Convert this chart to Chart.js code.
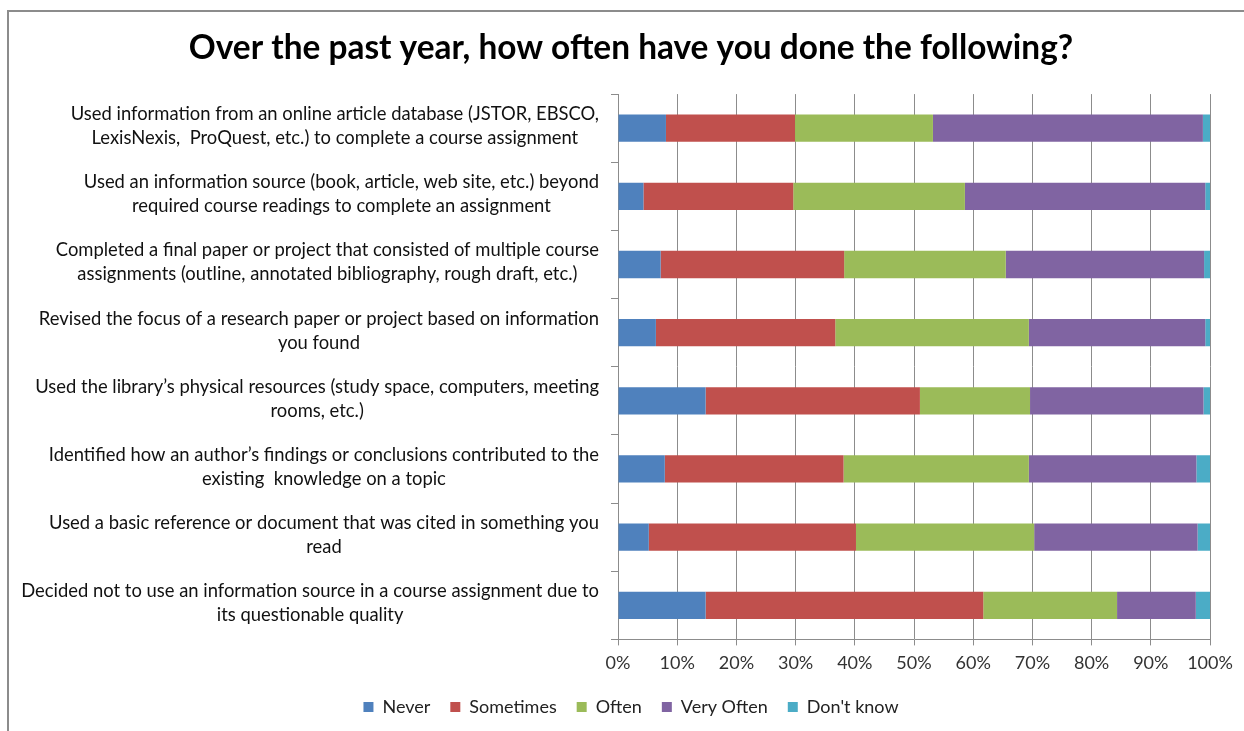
<!DOCTYPE html>
<html>
<head>
<meta charset="utf-8">
<script src="https://cdn.jsdelivr.net/npm/chart.js@4/dist/chart.umd.min.js"></script>
<style>
    html, body { margin: 0; padding: 0; background: #fff; }
    #wrap { position: relative; width: 1244px; height: 731px; }
    #frame { position: absolute; left: 7px; top: 10px; width: 1250px; height: 740px;
             border-top: 2px solid #8c8c8c; border-left: 2px solid #8c8c8c; pointer-events: none; }
</style>
</head>
<body>
<div id="wrap">
    <canvas id="surveyChart" width="1244" height="731"></canvas>
    <div id="frame"></div>
</div>
<script>
// Вопросы (каждая строка подписи отдельно)
const questions = [
    ['Used information from an online article database (JSTOR, EBSCO,', 'LexisNexis,  ProQuest, etc.) to complete a course assignment'],
    ['Used an information source (book, article, web site, etc.) beyond', 'required course readings to complete an assignment'],
    ['Completed a final paper or project that consisted of multiple course', 'assignments (outline, annotated bibliography, rough draft, etc.)'],
    ['Revised the focus of a research paper or project based on information', 'you found'],
    ['Used the library\u2019s physical resources (study space, computers, meeting', 'rooms, etc.)'],
    ['Identified how an author\u2019s findings or conclusions contributed to the', 'existing  knowledge on a topic'],
    ['Used a basic reference or document that was cited in something you', 'read'],
    ['Decided not to use an information source in a course assignment due to', 'its questionable quality']
];

// Доли ответов, %
const never      = [8.1, 4.3, 7.2, 6.4, 14.8, 7.9, 5.2, 14.8];
const sometimes  = [21.8, 25.3, 31.0, 30.3, 36.2, 30.2, 35.0, 46.9];
const often      = [23.3, 29.0, 27.3, 32.7, 18.6, 31.3, 30.1, 22.6];
const veryOften  = [45.6, 40.6, 33.5, 29.8, 29.3, 28.3, 27.6, 13.3];
const dontKnow   = [1.2, 0.8, 1.0, 0.8, 1.1, 2.3, 2.1, 2.4];

const seriesNames = ['Never', 'Sometimes', 'Often', 'Very Often', "Don't know"];
const xTicks = [0, 10, 20, 30, 40, 50, 60, 70, 80, 90, 100];

const colors = {
    never: '#4F81BD',
    sometimes: '#C0504D',
    often: '#9BBB59',
    veryOften: '#8064A2',
    dontKnow: '#4BACC6'
};

const FONT = 'Lato, "Open Sans", sans-serif';
const LABEL_SIZE = 18.4;
const LABEL_LINE = 24;
const PAD_LEFT = 52;

// Подписи категорий: каждая подпись центрирована, блок прижат вправо
const centeredLabels = {
    id: 'centeredLabels',
    afterDraw(chart) {
        const yScale = chart.scales.y;
        const ctx = chart.ctx;
        const right = yScale.right - 19;
        ctx.save();
        ctx.font = `${LABEL_SIZE}px ${FONT}`;
        ctx.fillStyle = '#111';
        ctx.textAlign = 'center';
        ctx.textBaseline = 'middle';
        questions.forEach((lines, i) => {
            const cy = yScale.getPixelForTick(i);
            const maxW = Math.max(...lines.map(l => ctx.measureText(l).width));
            const cx = right - maxW / 2;
            const top = cy - (lines.length - 1) * LABEL_LINE / 2 - 2;
            lines.forEach((l, j) => ctx.fillText(l, cx, top + j * LABEL_LINE));
        });
        ctx.restore();
    }
};

const makeSet = (label, data, color) => ({
    label, data,
    backgroundColor: color,
    borderWidth: 0,
    barPercentage: 0.4,
    categoryPercentage: 1.0
});

new Chart(document.getElementById('surveyChart').getContext('2d'), {
    type: 'bar',
    data: {
        labels: questions,
        datasets: [
            makeSet(seriesNames[0], never, colors.never),
            makeSet(seriesNames[1], sometimes, colors.sometimes),
            makeSet(seriesNames[2], often, colors.often),
            makeSet(seriesNames[3], veryOften, colors.veryOften),
            makeSet(seriesNames[4], dontKnow, colors.dontKnow)
        ]
    },
    options: {
        indexAxis: 'y',
        responsive: false,
        animation: false,
        layout: { padding: { left: PAD_LEFT, right: 34, top: 10, bottom: 5 } },
        plugins: {
            title: {
                display: true,
                text: 'Over the past year, how often have you done the following?',
                color: '#000',
                font: { family: FONT, size: 33.4, weight: 'bold' },
                padding: { top: 18, bottom: 26 }
            },
            legend: {
                position: 'bottom',
                labels: {
                    color: '#222',
                    font: { family: FONT, size: 18 },
                    boxWidth: 10,
                    boxHeight: 10,
                    padding: 20
                }
            },
            tooltip: { enabled: false }
        },
        scales: {
            x: {
                stacked: true,
                min: 0,
                max: 100,
                afterBuildTicks(scale) {
                    scale.ticks = xTicks.map(v => ({ value: v }));
                },
                afterFit(scale) { scale.height -= 3; },
                ticks: {
                    color: '#333',
                    font: { family: FONT, size: 18 },
                    padding: 7,
                    callback: v => v + '%'
                },
                grid: { color: '#8c8c8c', lineWidth: 1, tickLength: 6 },
                border: { color: '#8c8c8c' }
            },
            y: {
                stacked: true,
                afterFit(scale) { scale.width = 618 - PAD_LEFT; },
                ticks: { display: false },
                grid: { drawOnChartArea: false, color: '#8c8c8c', tickLength: 7, offset: true },
                border: { color: '#8c8c8c' }
            }
        }
    },
    plugins: [centeredLabels]
});
</script>
</body>
</html>
